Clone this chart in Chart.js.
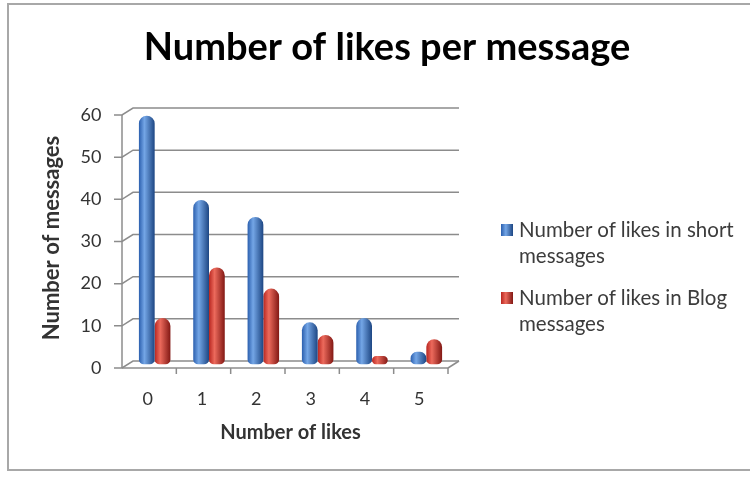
<!DOCTYPE html>
<html>
<head>
<meta charset="utf-8">
<title>Number of likes per message</title>
<script src="https://cdn.jsdelivr.net/npm/chart.js@4.4.0/dist/chart.umd.min.js"></script>
<style>
  html, body { margin: 0; padding: 0; background: #fff; }
  #wrap { position: relative; width: 750px; height: 477px; overflow: hidden; }
  #frame { position: absolute; left: 7px; top: 3px; width: 800px; height: 468px; border: 2px solid #a8a8a8; box-sizing: border-box; }
  canvas { position: absolute; left: 0; top: 0; }
  #legend { position: absolute; left: 501px; top: 216px; font-family: Lato, sans-serif; font-size: 20.5px; color: #3c3c3c; }
  .item { display: flex; align-items: flex-start; margin-bottom: 16px; }
  .box { width: 12px; height: 12px; margin: 8px 6px 0 0; flex: none; }
  .txt { width: 235px; line-height: 26px; }
</style>
</head>
<body>
<div id="wrap">
  <div id="frame"></div>
  <canvas id="chart" width="750" height="477"></canvas>
  <div id="legend"></div>
</div>
<script>
// dados
const likes = ['0', '1', '2', '3', '4', '5'];
const shortMessages = [59, 39, 35, 10, 11, 3];
const blogMessages = [11, 23, 18, 7, 2, 6];
const seriesNames = ['Number of likes in short messages', 'Number of likes in Blog messages'];
const yTicks = [0, 10, 20, 30, 40, 50, 60];

// cores dos cilindros (sombra, brilho, borda escura)
const blueShades = ['#2b5fae', '#74a6e6', '#1d4683'];
const redShades = ['#b82620', '#ec6a5c', '#821814'];

const DX = 5.5, DY = 3.5;   // meia profundidade do efeito 3D
const CAT_PCT = 0.58;
const gridColor = '#8c8c8c';
const textColor = '#333';

function cylinder(shades, side) {
    return (c) => {
        const chart = c.chart, x = chart.scales.x;
        if (!x || !chart.chartArea) return shades[1];
        const catW = (x.right - x.left) / likes.length;
        const barW = catW * CAT_PCT / 2;
        const mid = x.getPixelForValue(c.dataIndex);
        const x0 = side === 0 ? mid - barW : mid;
        const g = chart.ctx.createLinearGradient(x0, 0, x0 + barW, 0);
        g.addColorStop(0, shades[0]);
        g.addColorStop(0.35, shades[1]);
        g.addColorStop(1, shades[2]);
        return g;
    };
}

// parede do fundo e chão em "3D"
const wall3d = {
    id: 'wall3d',
    beforeDatasetsDraw(chart) {
        const { ctx, chartArea: a, scales: { y } } = chart;
        const line = (x1, y1, x2, y2) => { ctx.beginPath(); ctx.moveTo(x1, y1); ctx.lineTo(x2, y2); ctx.stroke(); };
        ctx.save();
        ctx.strokeStyle = gridColor;
        ctx.lineWidth = 1.5;
        yTicks.forEach(v => {
            const py = y.getPixelForValue(v);
            ctx.beginPath();
            ctx.moveTo(a.left - DX - 8, py + DY);
            ctx.lineTo(a.left - DX, py + DY);
            ctx.lineTo(a.left + DX, py - DY);
            ctx.lineTo(a.right + DX, py - DY);
            ctx.stroke();
        });
        const top = y.getPixelForValue(yTicks[yTicks.length - 1]);
        const bot = y.getPixelForValue(0);
        line(a.left - DX, top + DY, a.left - DX, bot + DY);
        line(a.left - DX, bot + DY, a.right - DX, bot + DY);
        line(a.right - DX, bot + DY, a.right + DX, bot - DY);
        const step = (a.right - a.left) / likes.length;
        for (let i = 1; i <= likes.length; i++) {
            const px = a.left + i * step - DX;
            line(px, bot + DY, px, bot + DY + 6);
        }
        ctx.restore();
    }
};

const ctx = document.getElementById('chart').getContext('2d');
const likesChart = new Chart(ctx, {
    type: 'bar',
    data: {
        labels: likes,
        datasets: [{
            label: seriesNames[0],
            data: shortMessages,
            backgroundColor: cylinder(blueShades, 0),
            legendColor: blueShades
        }, {
            label: seriesNames[1],
            data: blogMessages,
            backgroundColor: cylinder(redShades, 1),
            legendColor: redShades
        }]
    },
    options: {
        responsive: false,
        animation: false,
        layout: { padding: { left: 24, right: 0, top: 0, bottom: 0 } },
        datasets: {
            bar: {
                categoryPercentage: CAT_PCT,
                barPercentage: 1,
                borderRadius: { topLeft: 8, topRight: 8, bottomLeft: 5, bottomRight: 5 },
                borderSkipped: false
            }
        },
        plugins: {
            legend: { display: false },
            tooltip: { enabled: false },
            title: {
                display: true,
                text: 'Number of likes per message',
                color: '#000',
                font: { family: 'Lato', size: 38, weight: 'bold', lineHeight: 1.2 },
                padding: { top: 25, bottom: 40.9 }
            }
        },
        scales: {
            x: {
                grid: { display: false, drawTicks: false },
                border: { display: false },
                ticks: { color: textColor, font: { family: 'Lato', size: 18 }, padding: 24, labelOffset: -7 },
                title: {
                    display: true, text: 'Number of likes', color: textColor,
                    font: { family: 'Lato', size: 20, weight: 'bold', lineHeight: 1.2 },
                    padding: { top: 0, bottom: 32 }
                },
                afterFit(s) { s.height = 112.5; }
            },
            y: {
                min: 0, max: 60,
                grid: { display: false, drawTicks: false },
                border: { display: false },
                ticks: { stepSize: 10, color: textColor, font: { family: 'Lato', size: 18 }, padding: 26, labelOffset: 3.5 },
                title: {
                    display: true, text: 'Number of messages', color: textColor,
                    font: { family: 'Lato', size: 22, weight: 'bold', lineHeight: 1.2 },
                    padding: { top: 15, bottom: 0 }
                },
                afterFit(s) { s.width = 103.5; }
            },
            // espaço reservado para a legenda à direita
            yRight: {
                position: 'right',
                min: 0, max: 60,
                grid: { display: false, drawTicks: false },
                border: { display: false },
                ticks: { display: false },
                afterFit(s) { s.width = 296.5; }
            }
        }
    },
    plugins: [wall3d]
});

// legenda em HTML
const legend = document.getElementById('legend');
likesChart.data.datasets.forEach(ds => {
    const item = document.createElement('div');
    item.className = 'item';
    const box = document.createElement('span');
    box.className = 'box';
    box.style.background = `linear-gradient(90deg, ${ds.legendColor[0]}, ${ds.legendColor[1]} 40%, ${ds.legendColor[2]})`;
    const txt = document.createElement('div');
    txt.className = 'txt';
    txt.textContent = ds.label;
    item.append(box, txt);
    legend.append(item);
});
</script>
</body>
</html>
